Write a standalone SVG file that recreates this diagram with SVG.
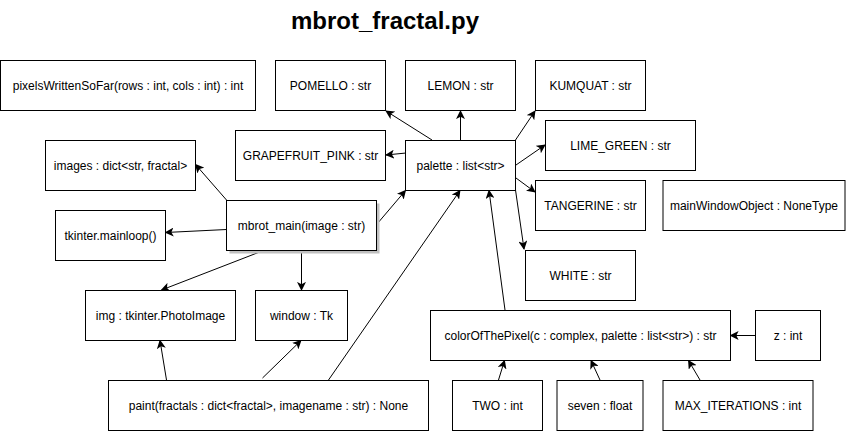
<svg xmlns="http://www.w3.org/2000/svg" width="846" height="431" viewBox="0 0 846 431">
<style>
.box{fill:#fff;stroke:#000;stroke-width:1}
.t{font-family:"Liberation Sans",Arial,sans-serif;font-size:12px;fill:#000;text-anchor:middle}
.title{font-family:"Liberation Sans",Arial,sans-serif;font-size:24px;font-weight:bold;fill:#000;text-anchor:middle}
.c{fill:none;stroke:#000;stroke-width:1}
</style>
<defs>
<marker id="arr" viewBox="0 0 10 10" refX="9" refY="5" markerWidth="9" markerHeight="9" markerUnits="userSpaceOnUse" orient="auto">
<path d="M0,0 L10,5 L0,10 L2.5,5 Z" fill="#000"/>
</marker>
</defs>
<rect width="846" height="431" fill="#fff"/>
<text class="title" x="385" y="29">mbrot_fractal.py</text>

<g id="connectors">
<line class="c" x1="432" y1="140" x2="386" y2="111" marker-end="url(#arr)"/>
<line class="c" x1="460.5" y1="140" x2="460.5" y2="111" marker-end="url(#arr)"/>
<line class="c" x1="515.5" y1="140" x2="535" y2="111" marker-end="url(#arr)"/>
<line class="c" x1="406" y1="153" x2="386" y2="155" marker-end="url(#arr)"/>
<line class="c" x1="516" y1="165" x2="545" y2="145" marker-end="url(#arr)"/>
<line class="c" x1="516" y1="178" x2="535" y2="192" marker-end="url(#arr)"/>
<line class="c" x1="515.5" y1="190" x2="524" y2="249" marker-end="url(#arr)"/>
<line class="c" x1="377" y1="224" x2="405.5" y2="190.5" marker-end="url(#arr)"/>
<line class="c" x1="226.5" y1="200" x2="195.5" y2="164.5" marker-end="url(#arr)"/>
<line class="c" x1="226.5" y1="229.5" x2="165.5" y2="232.5" marker-end="url(#arr)"/>
<line class="c" x1="263.5" y1="250.5" x2="161.5" y2="290" marker-end="url(#arr)"/>
<line class="c" x1="301.5" y1="250.5" x2="301.5" y2="290" marker-end="url(#arr)"/>
<line class="c" x1="166.5" y1="380" x2="160" y2="340.5" marker-end="url(#arr)"/>
<line class="c" x1="262.5" y1="378" x2="301" y2="340.5" marker-end="url(#arr)"/>
<line class="c" x1="328.5" y1="380" x2="460" y2="190.5" marker-end="url(#arr)"/>
<line class="c" x1="505" y1="310" x2="489" y2="190.5" marker-end="url(#arr)"/>
<line class="c" x1="498.5" y1="380" x2="504.5" y2="360.5" marker-end="url(#arr)"/>
<line class="c" x1="600" y1="380" x2="591" y2="360.5" marker-end="url(#arr)"/>
<line class="c" x1="700" y1="380" x2="688.5" y2="360.5" marker-end="url(#arr)"/>
<line class="c" x1="755" y1="335.5" x2="730.5" y2="335.5" marker-end="url(#arr)"/>
</g>

<g id="pixelsWrittenSoFar"><rect class="box" x="0.5" y="60.5" width="255" height="50"/><text class="t" x="128" y="89.5">pixelsWrittenSoFar(rows : int, cols : int) : int</text></g>
<g id="POMELLO"><rect class="box" x="275.5" y="60.5" width="110" height="50"/><text class="t" x="330.5" y="89.5">POMELLO : str</text></g>
<g id="LEMON"><rect class="box" x="405.5" y="60.5" width="110" height="50"/><text class="t" x="460.5" y="89.5">LEMON : str</text></g>
<g id="KUMQUAT"><rect class="box" x="535.5" y="60.5" width="110" height="50"/><text class="t" x="590.5" y="89.5">KUMQUAT : str</text></g>
<g id="GRAPEFRUIT_PINK"><rect class="box" x="235.5" y="130.5" width="150" height="50"/><text class="t" x="310.5" y="159.5">GRAPEFRUIT_PINK : str</text></g>
<g id="palette"><rect class="box" x="405.5" y="140.5" width="110" height="50"/><text class="t" x="460.5" y="169.5">palette : list&lt;str&gt;</text></g>
<g id="LIME_GREEN"><rect class="box" x="545.5" y="120.5" width="150" height="50"/><text class="t" x="620.5" y="149.5">LIME_GREEN : str</text></g>
<g id="TANGERINE"><rect class="box" x="535.5" y="180.5" width="110" height="50"/><text class="t" x="590.5" y="209.5">TANGERINE : str</text></g>
<g id="mainWindowObject"><rect class="box" x="663" y="180.5" width="182" height="50"/><text class="t" x="754" y="209.5">mainWindowObject : NoneType</text></g>
<g id="WHITE"><rect class="box" x="525.5" y="250.5" width="110" height="50"/><text class="t" x="580.5" y="279.5">WHITE : str</text></g>
<g id="images"><rect class="box" x="45.5" y="140.5" width="150" height="50"/><text class="t" x="120.5" y="169.5">images : dict&lt;str, fractal&gt;</text></g>
<g id="mainloop"><rect class="box" x="55.5" y="210.5" width="110" height="50"/><text class="t" x="110.5" y="239.5">tkinter.mainloop()</text></g>
<g id="mbrot_main"><rect x="229.5" y="203.5" width="150" height="50" fill="#c0c0c0"/><rect class="box" x="226.5" y="200.5" width="150" height="50"/><text class="t" x="301.5" y="229.5">mbrot_main(image : str)</text></g>
<g id="img"><rect class="box" x="85.5" y="290.5" width="150" height="50"/><text class="t" x="160.5" y="319.5">img : tkinter.PhotoImage</text></g>
<g id="window"><rect class="box" x="255.5" y="290.5" width="92" height="50"/><text class="t" x="301.5" y="319.5">window : Tk</text></g>
<g id="paint"><rect class="box" x="108.5" y="380.5" width="320" height="50"/><text class="t" x="268.5" y="409.5">paint(fractals : dict&lt;fractal&gt;, imagename : str) : None</text></g>
<g id="colorOfThePixel"><rect class="box" x="430.5" y="310.5" width="300" height="50"/><text class="t" x="580.5" y="339.5">colorOfThePixel(c : complex, palette : list&lt;str&gt;) : str</text></g>
<g id="z"><rect class="box" x="755.5" y="310.5" width="65" height="50"/><text class="t" x="788" y="339.5">z : int</text></g>
<g id="TWO"><rect class="box" x="452.5" y="380.5" width="90" height="50"/><text class="t" x="497.5" y="409.5">TWO : int</text></g>
<g id="seven"><rect class="box" x="557" y="380.5" width="86" height="50"/><text class="t" x="600" y="409.5">seven : float</text></g>
<g id="MAX_ITERATIONS"><rect class="box" x="663" y="380.5" width="150" height="50"/><text class="t" x="738" y="409.5">MAX_ITERATIONS : int</text></g>
</svg>
